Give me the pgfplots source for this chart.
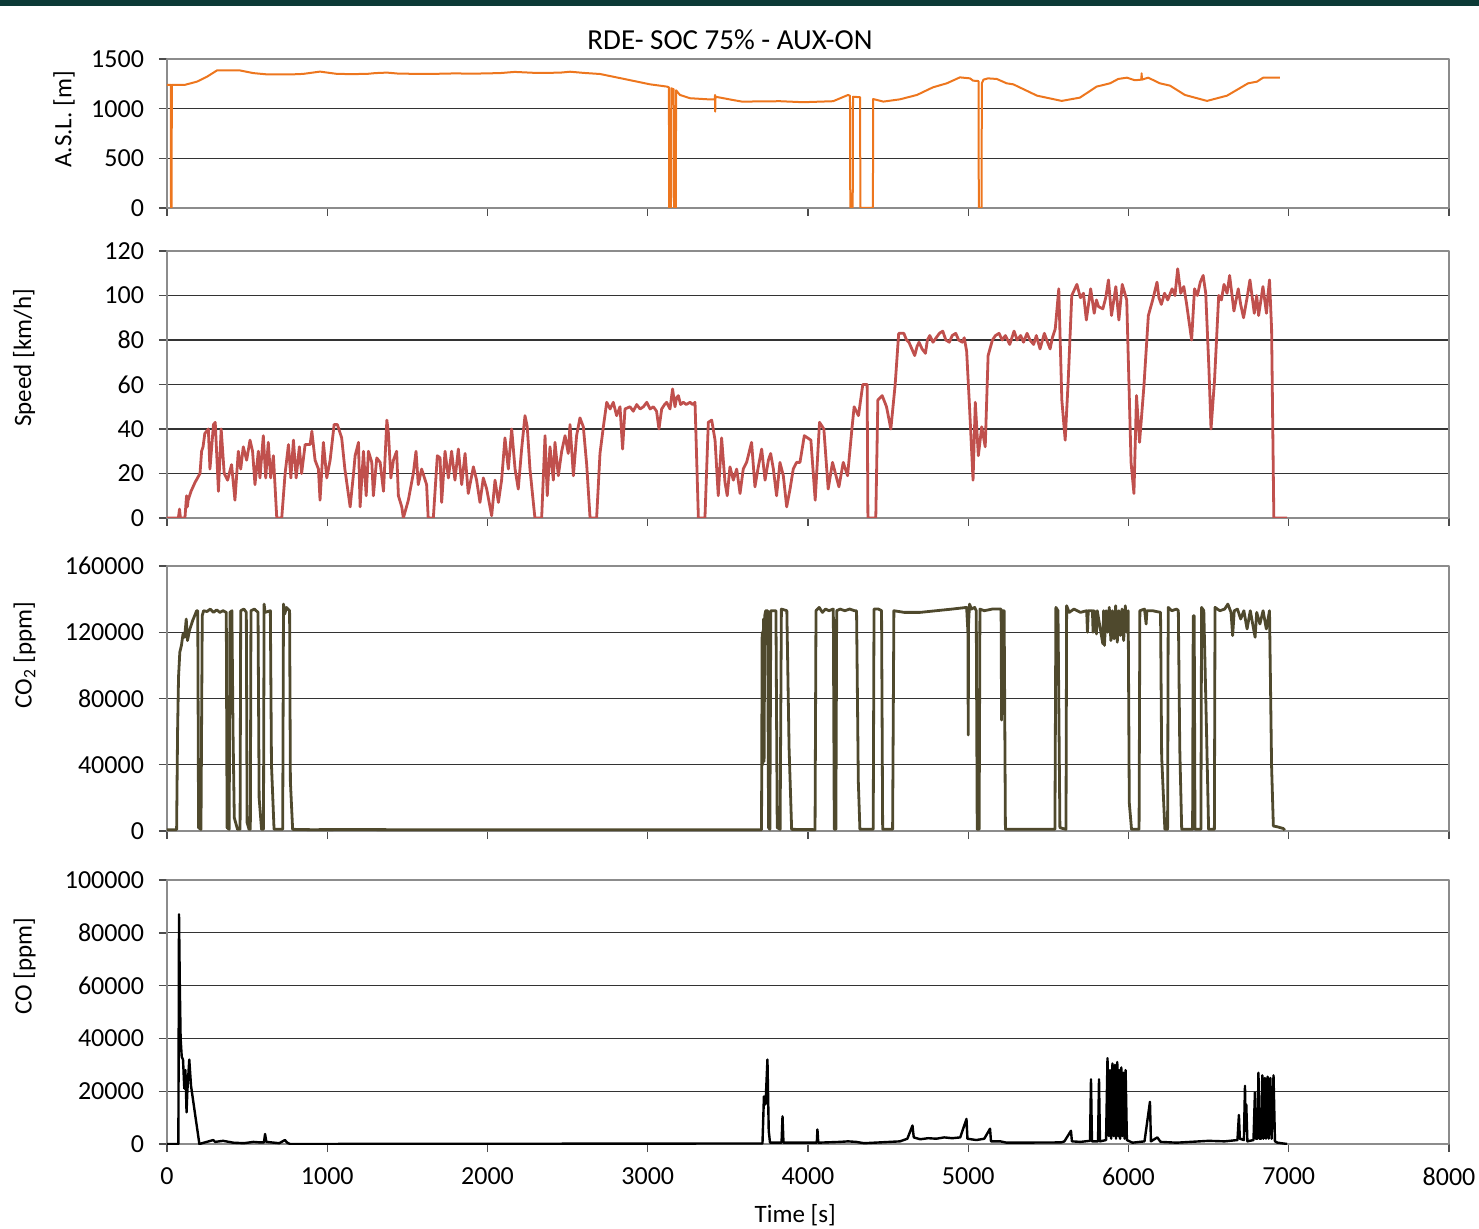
\documentclass[border=0pt]{standalone}
\usepackage{fontspec}
\setmainfont{Carlito}
\usepackage{pgfplots}
\pgfplotsset{compat=1.18}
\definecolor{altc}{RGB}{237,118,30}
\definecolor{spdc}{RGB}{192,80,77}
\definecolor{co2c}{RGB}{79,73,45}
\definecolor{topbar}{RGB}{12,58,54}
\pgfplotsset{panel/.style={
  scale only axis, width=641pt, anchor=south west,
  xmin=0, xmax=8000, xtick={0,1000,...,8000},
  axis line style={draw=black!45, line width=0.8pt},
  tick style={draw=black!70, line width=0.7pt},
  tick align=outside, major tick length=4pt, tick pos=left,
  ymajorgrids, major grid style={draw=black!80, line width=0.6pt},
  tick label style={font=\fontsize{13}{15}\selectfont},
  yticklabel style={xshift=-4pt},
  xticklabel style={yshift=-4.5pt},
  /pgf/number format/assume math mode=true,
  /pgf/number format/fixed,
  /pgf/number format/precision=0,
  /pgf/number format/1000 sep={},
  scaled y ticks=false, scaled x ticks=false,
  ylabel style={font=\fontsize{12.5}{15}\selectfont, anchor=center},
  xlabel style={font=\fontsize{12.5}{15}\selectfont, anchor=center},
  line join=round,
}}
\begin{document}
\begin{tikzpicture}[x=1pt,y=1pt]
\useasboundingbox (0,0) rectangle (739.5,614);
\fill[topbar] (0,611) rectangle (739.5,614);
\node[font=\fontsize{14.5}{17}\selectfont] at (365,594) {RDE- SOC 75\% - AUX-ON};

% ---------- Panel 1: altitude ----------
\begin{axis}[panel, at={(83.5pt,510pt)}, height=74.5pt,
  ymin=0, ymax=1500, ytick={0,500,1000,1500}, xticklabels={},
  ylabel={A.S.L. [m]}, ylabel style={at={(axis description cs:-0.0803,0.594)}}]
\addplot[altc, line width=1pt] coordinates {
(0,1240)(24,1240)(25,0)(29,0)(30,1240)(112,1240)(187,1272)(250,1322)(312,1385)(455,1385)
(538,1358)(624,1345)(780,1345)(850,1350)(955,1373)(1061,1350)(1150,1348)(1248,1350)(1300,1358)
(1373,1363)(1450,1352)(1660,1350)(1800,1355)(1900,1352)(2078,1358)(2170,1370)(2300,1360)
(2450,1362)(2515,1372)(2600,1360)(2702,1349)(2850,1300)(3014,1245)(3120,1222)(3132,1215)
(3134,0)(3145,0)(3147,1205)(3162,1195)(3164,0)(3175,0)(3177,1185)(3201,1138)(3264,1105)
(3376,1094)(3418,1094)(3420,1138)(3421,970)(3423,1120)(3532,1087)(3588,1071)(3825,1075)
(3970,1065)(4157,1075)(4250,1138)(4262,1130)(4264,0)(4279,0)(4281,1120)(4325,1115)(4327,0)
(4405,0)(4407,1097)(4470,1071)(4574,1094)(4680,1138)(4780,1215)(4866,1255)(4948,1315)
(5011,1305)(5030,1282)(5064,1278)(5066,0)(5083,0)(5085,1255)(5095,1292)(5123,1305)(5178,1299)
(5240,1255)(5281,1245)(5429,1131)(5583,1078)(5697,1111)(5801,1222)(5885,1255)(5936,1299)
(5990,1312)(6040,1286)(6080,1292)(6082,1356)(6084,1292)(6123,1312)(6196,1255)(6259,1232)
(6352,1138)(6490,1078)(6615,1131)(6746,1255)(6802,1272)(6840,1312)(6945,1312)
};
\end{axis}

% ---------- Panel 2: speed ----------
\begin{axis}[panel, at={(83.5pt,355pt)}, height=133.5pt,
  ymin=0, ymax=120, ytick={0,20,...,120}, xticklabels={},
  ylabel={Speed [km/h]}, ylabel style={at={(axis description cs:-0.1115,0.6)}}]
\addplot[spdc, line width=1.4pt] coordinates {
(0,0)(71,0)(78,4)(84,0)(112,0)(122,10)(127,5)(132,8)(150,12)(175,16)(206,20)(216,30)(225,32)
(236,38)(258,40)(268,22)(290,42)(301,43)(321,12)(338,40)(357,20)(378,17)(403,24)(424,8)
(445,30)(460,22)(476,32)(497,26)(518,35)(534,30)(549,15)(570,30)(580,18)(601,37)(616,18)
(632,34)(647,18)(664,28)(685,0)(716,0)(737,20)(758,33)(773,18)(789,35)(806,18)(826,32)
(840,20)(862,33)(893,33)(904,39)(924,26)(945,22)(955,8)(976,34)(997,18)(1018,26)(1043,42)
(1063,42)(1090,36)(1110,22)(1143,5)(1164,20)(1174,28)(1195,34)(1205,5)(1226,30)(1243,10)
(1257,30)(1278,25)(1288,10)(1309,27)(1330,25)(1351,12)(1372,44)(1382,38)(1397,18)(1413,26)
(1433,30)(1444,10)(1465,5)(1475,0)(1506,8)(1537,20)(1554,30)(1568,15)(1589,22)(1620,15)
(1630,0)(1662,0)(1687,28)(1704,27)(1714,7)(1735,30)(1756,18)(1776,30)(1797,17)(1818,31)
(1839,15)(1860,29)(1880,11)(1912,23)(1932,17)(1953,7)(1974,18)(1995,13)(2026,1)(2047,17)
(2068,7)(2088,17)(2109,36)(2130,22)(2151,40)(2172,22)(2192,13)(2213,31)(2234,46)(2248,41)
(2265,22)(2286,7)(2296,0)(2338,0)(2359,37)(2373,10)(2390,32)(2411,17)(2421,34)(2442,19)
(2463,30)(2484,37)(2504,29)(2515,42)(2536,19)(2556,37)(2577,45)(2598,41)(2619,24)(2640,0)
(2681,0)(2702,29)(2723,41)(2744,52)(2765,49)(2785,52)(2806,46)(2827,50)(2843,31)(2858,49)
(2889,50)(2910,48)(2931,51)(2952,49)(2973,50)(2994,52)(3015,49)(3035,50)(3055,48)(3070,40)
(3087,49)(3105,51)(3118,52)(3139,49)(3155,58)(3170,50)(3180,54)(3191,55)(3205,51)(3222,52)
(3240,51)(3264,52)(3280,51)(3295,52)(3316,0)(3357,0)(3378,43)(3399,44)(3420,35)
(3440,10)(3461,36)(3482,16)(3496,10)(3513,23)(3534,17)(3555,22)(3576,11)(3596,22)(3617,25)
(3648,34)(3669,14)(3690,23)(3711,31)(3732,17)(3753,26)(3767,29)(3784,22)(3804,10)(3825,25)
(3846,19)(3867,5)(3888,13)(3908,22)(3929,25)(3950,25)(3977,37)(4018,35)(4045,8)(4072,43)
(4099,40)(4126,13)(4153,25)(4193,14)(4220,25)(4247,19)(4274,40)(4288,50)(4315,46)(4342,60)
(4369,60)(4374,0)(4423,0)(4436,53)(4463,55)(4490,50)(4517,40)(4544,60)(4566,83)(4598,83)
(4615,80)(4630,79)(4648,76)(4666,73)(4680,77)(4693,79)(4712,76)(4733,74)(4745,80)(4760,82)
(4780,79)(4800,81)(4820,83)(4841,84)(4860,80)(4882,79)(4900,82)(4922,83)(4940,80)(4963,79)
(4975,81)(4990,75)(5008,50)(5030,17)(5044,52)(5063,28)(5084,41)(5106,32)(5124,73)(5151,80)
(5170,82)(5192,83)(5212,80)(5232,82)(5259,78)(5286,84)(5305,80)(5327,82)(5345,79)(5367,83)
(5385,80)(5408,78)(5425,82)(5448,76)(5475,83)(5495,79)(5511,76)(5525,81)(5543,85)
(5565,103)(5584,53)(5605,35)(5624,62)(5646,100)(5678,105)(5700,99)(5719,101)(5737,89)(5764,103)
(5786,92)(5800,98)(5813,95)(5840,94)(5858,99)(5875,107)(5894,91)(5921,104)(5940,89)(5961,105)(5989,98)
(6016,25)(6034,11)(6050,55)(6069,34)(6096,59)(6124,91)(6151,98)(6178,106)(6190,99)(6205,96)(6225,101)(6245,98)
(6272,103)(6290,100)(6307,112)(6326,101)(6345,104)(6361,97)(6394,80)(6412,103)(6430,100)(6448,106)(6466,109)(6482,101)
(6502,67)(6515,40)(6537,62)(6563,100)(6580,98)(6596,105)(6615,101)(6631,109)(6658,93)(6685,103)(6700,96)(6718,90)
(6740,99)(6758,107)(6785,92)(6800,100)(6812,91)(6839,104)(6861,92)(6870,100)(6880,107)(6893,85)(6907,0)(6990,0)
};
\end{axis}

% ---------- Panel 3: CO2 ----------
\begin{axis}[panel, at={(83.5pt,198.5pt)}, height=132.5pt,
  ymin=0, ymax=160000, ytick={0,40000,80000,120000,160000}, xticklabels={},
  ylabel={CO\textsubscript{2} [ppm]}, ylabel style={at={(axis description cs:-0.111,0.664)}}]
\addplot[co2c, line width=1.4pt] coordinates {
(0,800)(60,800)(66,60000)(72,93000)(80,108000)(90,112000)(100,119000)(110,117000)(120,128000)
(128,115000)(140,121000)(160,127000)(185,133000)(192,133000)(197,2000)(212,1000)(220,130000)
(228,133000)(250,132500)(270,134000)(290,132000)(310,133500)(330,132000)(350,133000)
(370,132000)(375,2000)(388,1000)(393,132000)(405,133000)(412,60000)(420,8000)(440,1000)
(456,1000)(460,133000)(480,134000)(495,132000)(500,5000)(512,1000)(520,1000)(524,133000)
(545,134000)(568,132000)(575,20000)(590,1000)(602,1000)(606,137000)(612,132000)(645,133000)
(652,40000)(668,1000)(722,1000)(727,137000)(735,131000)(745,135000)(765,133000)(770,30000)
(784,1000)(900,800)(1200,900)(1600,700)(2000,800)(2500,700)(3000,700)(3500,800)(3710,800)
(3714,120000)(3718,40000)(3722,128000)(3726,42000)(3730,130000)(3736,133000)(3748,133000)
(3754,2000)(3762,1000)(3768,133000)(3800,133000)(3808,2000)(3826,1000)(3834,134000)
(3868,133000)(3882,50000)(3898,1000)(4044,800)(4050,133000)(4070,135000)(4090,132000)
(4110,134000)(4130,133000)(4158,134000)(4164,1000)(4174,1000)(4179,133000)(4200,134000)
(4230,133000)(4260,134000)(4290,133000)(4303,133000)(4314,30000)(4324,1000)(4407,1000)
(4412,134000)(4440,134000)(4459,133000)(4466,1000)(4528,1000)(4536,133000)(4600,132000)
(4700,132000)(4800,133000)(4900,134000)(4990,135000)(4998,120000)(5000,58000)(5002,125000)
(5008,137000)(5020,134000)(5040,135000)(5050,133000)(5056,1000)(5068,1000)(5073,134000)
(5100,133000)(5150,134000)(5205,134000)(5208,67000)(5211,133000)(5224,133000)(5232,1000)
(5541,1000)(5547,135000)(5560,133000)(5572,2000)(5610,1000)(5614,136000)(5630,132000)
(5660,134000)(5700,132000)(5739,133000)(5744,120000)(5749,133000)(5775,133000)(5779,120000)
(5783,133000)(5795,132000)(5800,119000)(5805,133000)(5840,113000)(5845,133000)(5850,112000)
(5860,133000)(5870,120000)(5880,135000)(5890,115000)(5900,133000)(5910,116000)(5920,136000)
(5930,114000)(5940,133000)(5950,118000)(5960,134000)(5970,115000)(5980,136000)(5990,120000)
(5998,133000)(6005,17000)(6019,1000)(6066,1000)(6071,133000)(6100,134000)(6110,125000)
(6115,133000)(6150,133000)(6200,132000)(6207,45000)(6227,1000)(6244,1000)(6248,135000)
(6270,133000)(6300,134000)(6311,133000)(6320,50000)(6332,1000)(6400,1000)(6404,130000)
(6410,130000)(6415,1000)(6452,1000)(6456,135000)(6470,133000)(6487,60000)(6500,1000)
(6536,1000)(6540,135000)(6570,133000)(6600,134000)(6620,137000)(6640,132000)(6650,118000)
(6660,133000)(6680,134000)(6700,128000)(6720,133000)(6740,122000)(6760,133000)(6790,117000)
(6800,132000)(6820,125000)(6840,133000)(6860,122000)(6880,133000)(6893,39000)(6904,3000)
(6930,2500)(6966,1500)(6975,500)
};
\end{axis}

% ---------- Panel 4: CO ----------
\begin{axis}[panel, at={(83.5pt,42pt)}, height=132pt,
  ymin=0, ymax=100000, ytick={0,20000,40000,60000,80000,100000},
  ylabel={CO [ppm]}, ylabel style={at={(axis description cs:-0.111,0.674)}},
  xlabel={Time [s]}, xlabel style={at={(axis description cs:0.49,-0.269)}}]
\addplot[black, line width=1.2pt] coordinates {
(0,0)(71,0)(75,87000)(80,60000)(85,40000)(92,33000)(100,32000)(108,21000)(115,28000)
(122,12000)(127,20000)(139,32000)(150,22000)(202,0)(230,500)(260,1000)(289,1500)(300,800)
(350,1200)(414,500)(480,300)(539,800)(580,600)(605,600)(612,3800)(620,800)(700,300)(736,1500)
(750,500)(768,0)(3716,200)(3725,18000)(3735,15000)(3747,32000)(3755,5000)(3763,500)
(3835,500)(3841,10500)(3847,500)(4055,500)(4059,5500)(4064,500)(4200,800)(4250,1000)
(4300,800)(4350,300)(4574,1000)(4620,2000)(4652,7000)(4660,2500)(4700,1800)(4750,2200)
(4800,2000)(4850,2500)(4900,2200)(4950,2500)(4989,9500)(4995,2000)(5050,1500)(5100,2000)
(5136,5800)(5142,1000)(5200,1000)(5240,500)(5580,600)(5600,1000)(5641,5000)(5647,1000)
(5700,800)(5760,1200)(5766,24500)(5772,1000)(5810,1000)(5816,24500)(5822,1000)(5860,1500)
(5869,32500)(5878,3000)(5885,28000)(5892,2000)(5900,30500)(5908,3000)(5916,30000)
(5922,2000)(5930,31000)(5936,3000)(5942,28000)(5948,2000)(5955,29000)(5962,3000)
(5968,27000)(5975,2000)(5982,28000)(5990,1500)(6025,500)(6100,1000)(6134,16000)(6140,1000)
(6180,2500)(6200,800)(6300,500)(6500,1200)(6600,1000)(6680,1500)(6689,11000)(6695,2000)
(6720,1500)(6727,22000)(6731,5000)(6735,15000)(6742,1000)(6780,1500)(6789,19500)(6795,2000)
(6805,2000)(6811,27000)(6818,2000)(6828,2000)(6835,26000)(6842,2000)(6851,25000)(6858,2000)
(6868,25500)(6875,2000)(6885,25000)(6893,2000)(6905,26000)(6914,1000)(6930,500)(6990,0)
};
\end{axis}
\end{tikzpicture}
\end{document}
